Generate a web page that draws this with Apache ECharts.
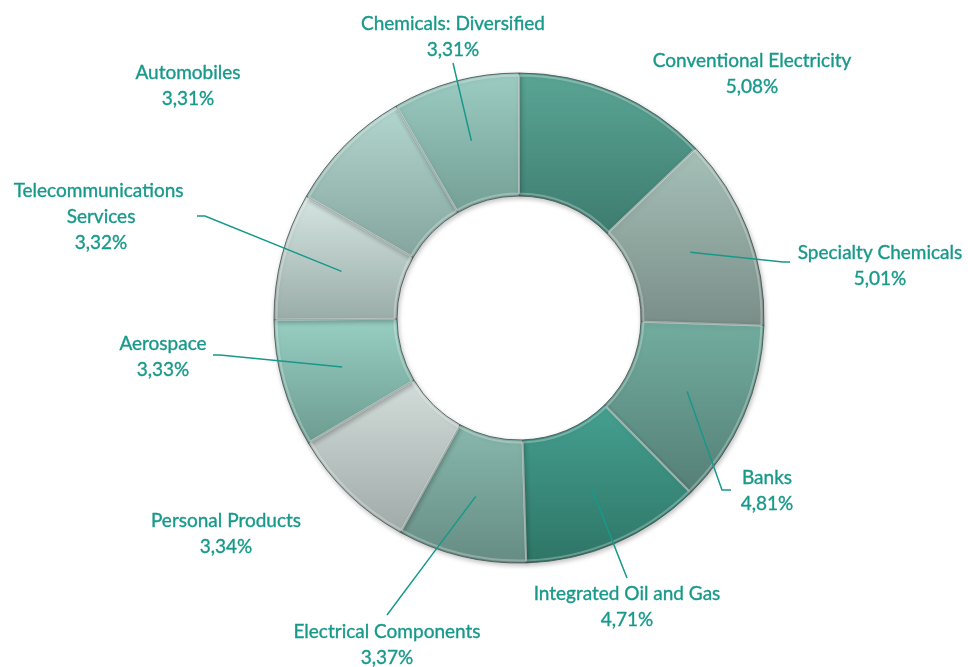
<!DOCTYPE html>
<html><head><meta charset="utf-8">
<script src="https://cdn.jsdelivr.net/npm/echarts@6/dist/echarts.min.js"></script>
<style>html,body{margin:0;padding:0;background:#fff}#c{width:968px;height:667px}</style>
</head><body><div id="c"></div>
<script>
// ---- data ----
const categories = ['Conventional Electricity','Specialty Chemicals','Banks','Integrated Oil and Gas','Electrical Components','Personal Products','Aerospace','Telecommunications Services','Automobiles','Chemicals: Diversified'];
const values = [5.08,5.01,4.81,4.71,3.37,3.34,3.33,3.32,3.31,3.31];

// ---- style ----
const topColors    = ['#5aa595','#a6c0b8','#72ad9f','#45a090','#88b8ad','#d2dcd9','#98cfc3','#d5e6e2','#b3d6ce','#9cccc2'];
const bottomColors = ['#3d7c6f','#7a8e88','#557f76','#2e7566','#668c83','#a0aaa8','#6d9b90','#9aaca8','#84a59d','#749f95'];
const textColor = '#17998a';

// ---- layout (pixels) ----
const CX = 519, CY = 318, R0 = 122, R1 = 245;
const labelPos = [[752,74],[880,266],[767,491],[627,607],[387,645],[226,534],[163,357],[101,217],[188,86],[453,37]];
const leaderEnds = [null, [[783,262],[790,262]], [[722,490],[731,490]], [[627,578]], [[387,615]], null, [[220,355],[213,355]], [[205,216],[197,216]], null, [[453,63]]];

const total = values.reduce((a,b)=>a+b,0);
function midAngle(i){
  let s = 0; for (let k=0;k<i;k++) s += values[k];
  return (s + values[i]/2) / total * 2 * Math.PI;
}

const ringData = categories.map((name,i)=>({
  name, value: values[i],
  itemStyle: {
    color: {type:'linear', x:0, y:0, x2:0, y2:1, colorStops:[{offset:0,color:topColors[i]},{offset:1,color:bottomColors[i]}]}
  }
}));

const labelData = categories.map((name,i)=>{
  const item = {name, value: values[i]};
  if (!leaderEnds[i]) item.labelLine = {show:false};
  if (name === 'Telecommunications Services') item.label = {width:200, overflow:'break'};
  return item;
});

const bevelData = categories.map((name,i)=>({name, value: values[i]}));

const chart = echarts.init(document.getElementById('c'), null, {renderer:'canvas'});
chart.setOption({
  animation: false,
  series: [{
    type: 'pie',
    z: 2,
    center: [CX, CY],
    radius: [R0, R1],
    startAngle: 90,
    clockwise: true,
    silent: true,
    data: ringData,
    label: {show:false},
    labelLine: {show:false},
    itemStyle: {
      borderColor: 'rgba(70,85,82,0.85)',
      borderWidth: 1,
      shadowBlur: 5,
      shadowColor: 'rgba(0,0,0,0.25)',
      shadowOffsetX: 1,
      shadowOffsetY: 2
    }
  }, {
    type: 'pie',
    z: 3,
    center: [CX, CY],
    radius: [R0 + 2.5, R1 - 2.5],
    startAngle: 90,
    clockwise: true,
    silent: true,
    data: bevelData,
    label: {show:false},
    labelLine: {show:false},
    itemStyle: {
      color: 'rgba(0,0,0,0)',
      borderColor: 'rgba(255,255,255,0.28)',
      borderWidth: 2
    }
  }, {
    type: 'pie',
    z: 5,
    center: [CX, CY],
    radius: [R0, R1],
    startAngle: 90,
    clockwise: true,
    silent: true,
    avoidLabelOverlap: false,
    data: labelData,
    itemStyle: {color: 'rgba(0,0,0,0)', borderWidth: 0},
    label: {
      show: true,
      color: textColor,
      textBorderColor: textColor,
      textBorderWidth: 0.35,
      fontFamily: 'Lato',
      fontSize: 19,
      lineHeight: 26,
      align: 'center',
      formatter: p => p.name + '\n' + p.value.toFixed(2).replace('.', ',') + '%'
    },
    labelLine: {
      show: true,
      lineStyle: {color: textColor, width: 1.5}
    },
    labelLayout: function(params){
      const i = params.dataIndex;
      const a = midAngle(i);
      const rm = (R0 + R1) / 2;
      const start = [CX + rm*Math.sin(a), CY - rm*Math.cos(a)];
      const res = {x: labelPos[i][0], y: labelPos[i][1], align:'center', verticalAlign:'middle'};
      const e = leaderEnds[i];
      if (e) {
        let pts;
        if (e.length === 2) pts = [start, e[0], e[1]];
        else pts = [start, [(start[0]+e[0][0])/2, (start[1]+e[0][1])/2], e[0]];
        res.labelLinePoints = pts;
      }
      return res;
    }
  }]
});
</script></body></html>
